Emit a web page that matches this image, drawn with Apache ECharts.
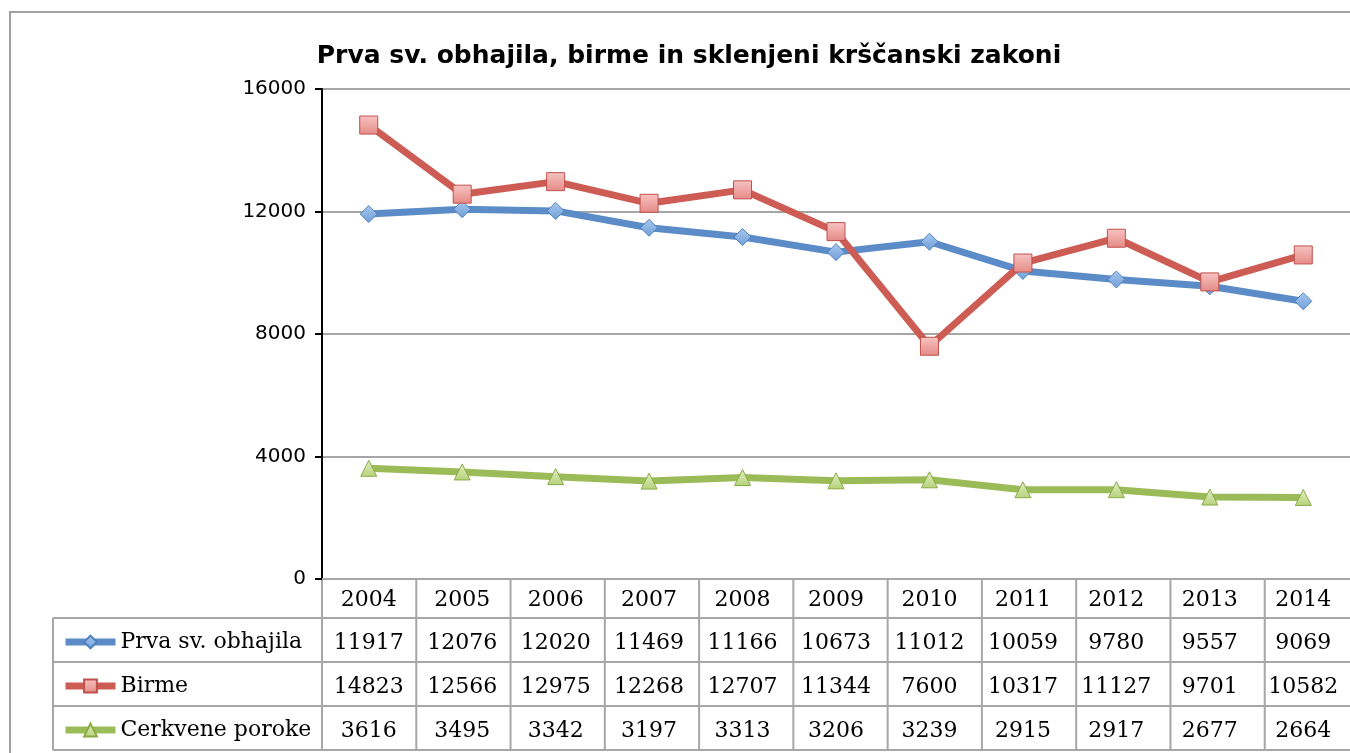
<!DOCTYPE html>
<html>
<head>
<meta charset="utf-8">
<script src="https://cdn.jsdelivr.net/npm/echarts@6/dist/echarts.min.js"></script>
<style>
  html, body { margin: 0; padding: 0; background: #fff; }
  #chart { width: 1350px; height: 753px; }
</style>
</head>
<body>
<div id="chart"></div>
<script>
// 数据
const years = ['2004', '2005', '2006', '2007', '2008', '2009', '2010', '2011', '2012', '2013', '2014']
const obhajila = [11917, 12076, 12020, 11469, 11166, 10673, 11012, 10059, 9780, 9557, 9069]
const birme = [14823, 12566, 12975, 12268, 12707, 11344, 7600, 10317, 11127, 9701, 10582]
const poroke = [3616, 3495, 3342, 3197, 3313, 3206, 3239, 2915, 2917, 2677, 2664]
const seriesNames = ['Prva sv. obhajila', 'Birme', 'Cerkvene poroke']

// 布局
const gridLeft = 322
const gridTop = 89
const gridWidth = 1037
const gridHeight = 490
const catW = gridWidth / years.length
const axisY = gridTop + gridHeight
const headH = 39
const rowH = 44
const tableLeft = 53
const lineGray = '#a6a6a6'

const chart = echarts.init(document.getElementById('chart'))

function grad(top, bottom) {
  return new echarts.graphic.LinearGradient(0, 0, 0, 1, [
    { offset: 0, color: top },
    { offset: 1, color: bottom }
  ])
}

// 表格线
const graphics = []
graphics.push({
  type: 'rect',
  shape: { x: 10, y: 12, width: 1400, height: 800 },
  style: { fill: 'none', stroke: '#a0a0a0', lineWidth: 2 },
  silent: true
})
for (let r = 1; r <= 4; r++) {
  const y = axisY + headH + (r - 1) * rowH
  graphics.push({
    type: 'line',
    shape: { x1: tableLeft, y1: y, x2: 1400, y2: y },
    style: { stroke: lineGray, lineWidth: 2 },
    silent: true
  })
}
graphics.push({
  type: 'line',
  shape: { x1: tableLeft, y1: axisY + headH, x2: tableLeft, y2: axisY + headH + 3 * rowH },
  style: { stroke: lineGray, lineWidth: 2 },
  silent: true
})
for (let i = 0; i <= years.length; i++) {
  const x = gridLeft + i * catW
  graphics.push({
    type: 'line',
    shape: { x1: x, y1: axisY, x2: x, y2: axisY + headH + 3 * rowH },
    style: { stroke: lineGray, lineWidth: 2 },
    silent: true
  })
}

chart.setOption({
  animation: false,
  title: {
    text: 'Prva sv. obhajila, birme in sklenjeni krščanski zakoni',
    left: 684,
    textAlign: 'center',
    top: 39,
    textStyle: { fontFamily: 'DejaVu Sans', fontWeight: 'bold', fontSize: 25, color: '#000' }
  },
  grid: { left: gridLeft, top: gridTop, width: gridWidth, height: gridHeight },
  legend: {
    orient: 'vertical',
    left: 62,
    top: axisY + headH + rowH / 2 - 9,
    padding: 0,
    itemWidth: 50,
    itemHeight: 16,
    itemGap: 22,
    data: seriesNames,
    lineStyle: { width: 7 },
    textStyle: { fontFamily: 'DejaVu Serif', fontSize: 22, lineHeight: 22, color: '#000' }
  },
  xAxis: {
    type: 'category',
    data: years,
    boundaryGap: true,
    axisLine: { lineStyle: { color: lineGray, width: 2 } },
    axisTick: { show: false },
    splitLine: { show: false },
    axisLabel: {
      margin: 1,
      interval: 0,
      formatter: function (v, i) {
        return '{yr|' + v + '}\n{v|' + obhajila[i] + '}\n{v|' + birme[i] + '}\n{v|' + poroke[i] + '}'
      },
      rich: {
        yr: { fontFamily: 'DejaVu Serif', fontSize: 22, lineHeight: headH + 2, color: '#000' },
        v: { fontFamily: 'DejaVu Serif', fontSize: 22, lineHeight: rowH, color: '#000' }
      }
    }
  },
  yAxis: {
    type: 'value',
    min: 0,
    max: 16000,
    interval: 4000,
    axisLine: { show: true, lineStyle: { color: '#000', width: 2 } },
    axisTick: { show: true, length: 7, lineStyle: { color: '#000', width: 2 } },
    splitLine: { lineStyle: { color: lineGray, width: 2 } },
    axisLabel: {
      fontFamily: 'DejaVu Sans', fontSize: 20, color: '#000', margin: 16,
      formatter: function (v) { return String(v) }
    }
  },
  series: [{
    name: seriesNames[0],
    type: 'line',
    data: obhajila,
    symbol: 'diamond',
    symbolSize: 17,
    lineStyle: { color: '#5b8cc8', width: 7 },
    itemStyle: { color: grad('#a9c8ee', '#6f9fd8'), borderColor: '#4f81bd', borderWidth: 1 },
    z: 3
  }, {
    name: seriesNames[1],
    type: 'line',
    data: birme,
    symbol: 'rect',
    symbolSize: 18,
    lineStyle: { color: '#cd5c55', width: 7 },
    itemStyle: { color: grad('#f7c4c2', '#e58a86'), borderColor: '#c0504d', borderWidth: 1 },
    z: 4
  }, {
    name: seriesNames[2],
    type: 'line',
    data: poroke,
    symbol: 'triangle',
    symbolSize: 16,
    lineStyle: { color: '#9bbb59', width: 7 },
    itemStyle: { color: grad('#e2efc4', '#b5d27a'), borderColor: '#8aab48', borderWidth: 1 },
    z: 2
  }],
  graphic: graphics
})
</script>
</body>
</html>
